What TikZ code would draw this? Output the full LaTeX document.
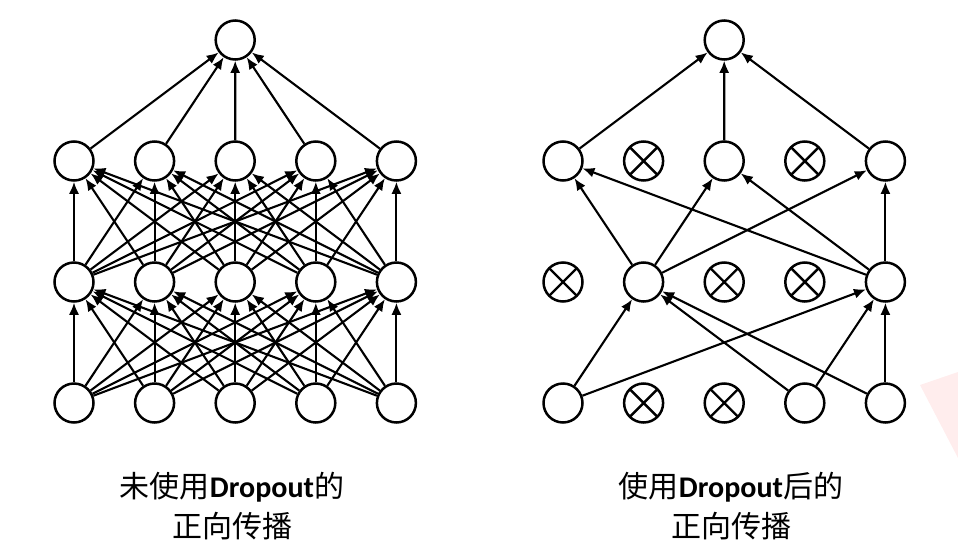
\documentclass[tikz,border=0pt]{standalone}
\usepackage{fontspec}
\setmainfont{Carlito}
\newfontfamily\cjk{Noto Sans CJK SC}
\newfontfamily\latin{Carlito}
\usetikzlibrary{arrows.meta}

\tikzset{
  neuron/.style={draw, circle, line width=2.5pt, minimum size=39pt, inner sep=0pt, fill=white},
  dropped/.style={neuron, path picture={
      \draw[line width=2.4pt] (path picture bounding box.south west) -- (path picture bounding box.north east)
                             (path picture bounding box.north west) -- (path picture bounding box.south east);}},
  conn/.style={-{Latex[length=12pt,width=10pt]}, line width=2.1pt},
  caption/.style={font=\cjk\fontsize{30}{40.5}\selectfont, align=center, inner sep=0pt},
}

\begin{document}
\begin{tikzpicture}[x=1pt, y=-1pt]
  \useasboundingbox (0,0) rectangle (958,557);
  \fill[red!7] (920,385) -- (958,372) -- (958,458) -- cycle;

  \def\dx{80.6}
  % Without dropout
  \foreach \i in {1,...,5} {
    \node[neuron] (l-b-\i) at (74+\dx*\i-\dx, 403) {};
    \node[neuron] (l-m-\i) at (74+\dx*\i-\dx, 282) {};
    \node[neuron] (l-h-\i) at (74+\dx*\i-\dx, 161) {};
  };
  \node[neuron] (l-o) at (235.2, 40) {};

  \foreach \i in {1,...,5} {
    \foreach \j in {1,...,5} {
      \draw[conn] (l-b-\i) -- (l-m-\j);
      \draw[conn] (l-m-\i) -- (l-h-\j);
    };
    \draw[conn] (l-h-\i) -- (l-o);
  };

  % With dropout
  \foreach \i/\s in {1/neuron, 2/dropped, 3/dropped, 4/neuron, 5/neuron}
    \node[\s] (r-b-\i) at (563+\dx*\i-\dx, 403) {};
  \foreach \i/\s in {1/dropped, 2/neuron, 3/dropped, 4/dropped, 5/neuron}
    \node[\s] (r-m-\i) at (563+\dx*\i-\dx, 282) {};
  \foreach \i/\s in {1/neuron, 2/dropped, 3/neuron, 4/dropped, 5/neuron}
    \node[\s] (r-h-\i) at (563+\dx*\i-\dx, 161) {};
  \node[neuron] (r-o) at (724.2, 40) {};

  \foreach \i in {1,4,5} {
    \foreach \j in {2,5} {
      \draw[conn] (r-b-\i) -- (r-m-\j);
    };
  };
  \foreach \i in {2,5} {
    \foreach \j in {1,3,5} {
      \draw[conn] (r-m-\i) -- (r-h-\j);
    };
  };
  \foreach \i in {1,3,5}
    \draw[conn] (r-h-\i) -- (r-o);

  % Captions
  \node[caption] (l-cap) at (232, 506) {未使用{\latin\bfseries Dropout}的\\正向传播};
  \node[caption] (r-cap) at (731, 506) {使用{\latin\bfseries Dropout}后的\\正向传播};
\end{tikzpicture}
\end{document}
